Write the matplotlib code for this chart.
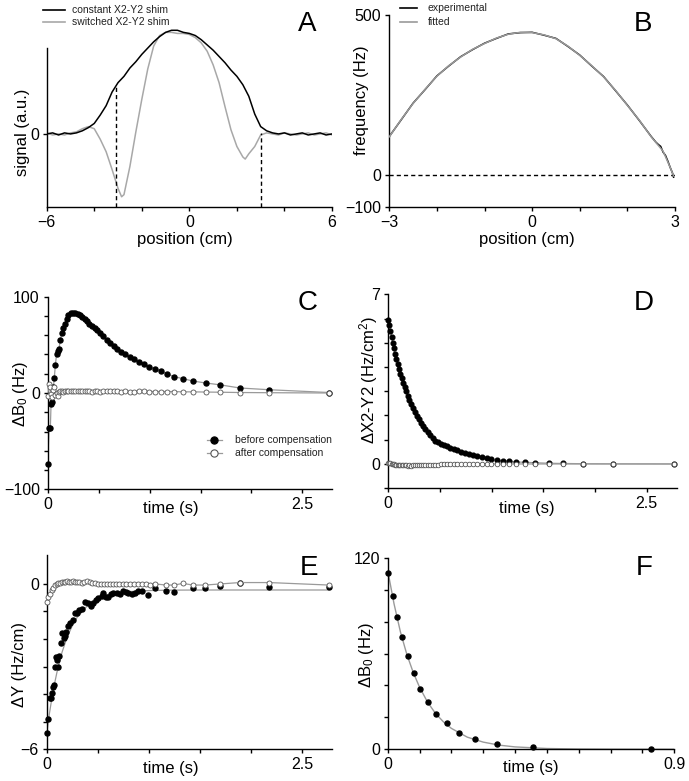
import numpy as np
import matplotlib
matplotlib.use('Agg')
import matplotlib.pyplot as plt
from matplotlib.lines import Line2D

plt.rcParams['font.family'] = ['Liberation Sans', 'DejaVu Sans']
plt.rcParams['mathtext.fontset'] = 'custom'
plt.rcParams['mathtext.rm'] = 'Liberation Sans'
plt.rcParams['mathtext.it'] = 'Liberation Sans:italic'

# ---------------- Panel A: signal profiles ----------------
a_x_const = [-6, -5.75, -5.5, -5.25, -5, -4.75, -4.5, -4.25, -4, -3.75, -3.5, -3.25, -3,
             -2.75, -2.5, -2.25, -2, -1.75, -1.5, -1.25, -1, -0.75, -0.5, -0.25, 0,
             0.25, 0.5, 0.75, 1, 1.25, 1.5, 1.75, 2, 2.25, 2.5, 2.75, 3, 3.25, 3.5,
             3.75, 4, 4.25, 4.5, 4.75, 5, 5.25, 5.5, 5.75, 6]
a_const = [0.00, 0.01, -0.01, 0.01, 0.00, 0.01, 0.03, 0.06, 0.10, 0.18, 0.27, 0.40, 0.49,
           0.55, 0.63, 0.69, 0.76, 0.82, 0.88, 0.93, 0.97, 0.99, 0.99, 0.97, 0.96,
           0.94, 0.90, 0.85, 0.80, 0.74, 0.68, 0.61, 0.55, 0.47, 0.36, 0.19, 0.07, 0.03, 0.01,
           0.00, 0.01, -0.01, 0.00, 0.01, -0.01, 0.00, 0.01, -0.01, 0.00]
a_x_switch = [-6, -5.75, -5.5, -5.25, -5, -4.75, -4.5, -4.25, -4, -3.75, -3.5, -3.25, -3,
              -2.85, -2.75, -2.5, -2.25, -2, -1.75, -1.5, -1.25, -1, -0.75, -0.5, -0.25,
              0, 0.25, 0.5, 0.75, 1, 1.25, 1.5, 1.75, 2, 2.25, 2.35, 2.5, 2.75, 3, 3.25,
              3.5, 3.75, 4, 4.25, 4.5, 4.75, 5, 5.25, 5.5, 5.75, 6]
a_switch = [0.01, -0.01, 0.00, -0.01, 0.01, 0.02, 0.05, 0.07, 0.05, -0.05, -0.17, -0.34, -0.52,
            -0.60, -0.58, -0.31, 0.02, 0.33, 0.62, 0.84, 0.94, 0.97, 0.97, 0.96, 0.96,
            0.95, 0.92, 0.87, 0.79, 0.66, 0.49, 0.26, 0.04, -0.12, -0.22, -0.24, -0.19, -0.12, -0.01, 0.01,
            0.00, -0.01, 0.01, 0.00, -0.01, 0.00, 0.01, -0.01, 0.00, 0.01, -0.01]
a_cut_x = [-3.08, 3.0]
a_cut_top = [0.47, 0.01]

# ---------------- Panel B: frequency vs position ----------------
b_fit_x = [-3, -2.75, -2.5, -2.25, -2, -1.75, -1.5, -1.25, -1, -0.75, -0.5, -0.25, 0,
           0.25, 0.5, 0.75, 1, 1.25, 1.5, 1.75, 2, 2.25, 2.5, 2.75, 2.9, 2.97]
b_fit = [120, 174, 224, 268, 309, 342, 369, 393, 411, 428, 440, 446, 445,
         438, 426, 403, 374, 342, 307, 265, 218, 172, 120, 75, 24, -2]
b_exp_x = [-3, -2.75, -2.5, -2.25, -2, -1.75, -1.5, -1.25, -1, -0.75, -0.5, -0.25, 0,
           0.25, 0.5, 0.75, 1, 1.25, 1.5, 1.75, 2, 2.25, 2.5,
           2.6, 2.65, 2.7, 2.75, 2.8, 2.85, 2.9, 2.95, 2.97]
b_exp = [121, 173, 225, 267, 310, 341, 370, 392, 412, 427, 441, 445, 446,
         437, 427, 402, 375, 341, 308, 264, 219, 171, 121,
         103, 96, 90, 72, 62, 44, 24, 6, -6]
b_zero_x = [-3, 3]

# ---------------- Panel C: dB0 vs time ----------------
c_t = [0.000, 0.013, 0.026, 0.033, 0.046, 0.056, 0.065, 0.075, 0.088, 0.098, 0.111, 0.124,
       0.137, 0.154, 0.170, 0.186, 0.203, 0.225, 0.248, 0.271, 0.294, 0.317, 0.340, 0.363,
       0.386, 0.410, 0.435, 0.460, 0.487, 0.516, 0.546, 0.578, 0.610, 0.647, 0.683, 0.722,
       0.761, 0.804, 0.850, 0.895, 0.944, 0.997, 1.052, 1.108, 1.167, 1.239, 1.324, 1.422,
       1.549, 1.690, 1.886, 2.173, 2.760]
c_before = [-74, -36, -36, -11, -9, 6, 16, 29, 41, 44, 46, 55, 62, 67, 72, 77, 81, 83, 83, 83,
            82, 81, 79, 77, 75, 72, 70, 68, 65, 62, 59, 55, 52, 49, 46, 43, 40, 37, 35, 32,
            30, 27, 25, 23, 20, 17, 15, 12.5, 10.4, 8.5, 5.2, 3.4, 0.5]
c_after = [-3, 9.5, 6.5, -1, -4, 3, 6, -2, 0.5, -3, 1, 2, 2.5, 1.5, 2, 2.5, 2, 2, 2.5, 2,
           2.5, 2, 2, 2.5, 2, 2, 1.5, 2, 2, 1.5, 2, 2, 2.5, 2, 2, 1.5, 2, 1.5, 1.5, 2,
           2, 1.5, 1.5, 1.5, 1.5, 1.5, 1.2, 1.2, 1.0, 0.8, 0.5, 0.3, 0.0]

# ---------------- Panel D: dX2-Y2 vs time ----------------
d_t = [0.000, 0.010, 0.021, 0.032, 0.043, 0.055, 0.067, 0.079, 0.091, 0.104, 0.117, 0.130,
       0.144, 0.158, 0.172, 0.187, 0.203, 0.220, 0.238, 0.256, 0.275, 0.294, 0.314, 0.335,
       0.357, 0.380, 0.404, 0.429, 0.455, 0.482, 0.510, 0.539, 0.569, 0.600, 0.633, 0.667,
       0.702, 0.739, 0.778, 0.818, 0.860, 0.904, 0.950, 0.998, 1.048, 1.105, 1.170, 1.240,
       1.320, 1.420, 1.550, 1.690, 1.886, 2.175, 2.760]
d_before = [5.95, 5.72, 5.47, 5.24, 5.01, 4.77, 4.55, 4.34, 4.13, 3.93, 3.73, 3.54,
            3.34, 3.16, 2.99, 2.82, 2.64, 2.47, 2.30, 2.14, 1.98, 1.84, 1.69, 1.56,
            1.43, 1.30, 1.18, 1.07, 0.96, 0.90, 0.84, 0.79, 0.73, 0.67, 0.61, 0.56,
            0.51, 0.46, 0.41, 0.36, 0.32, 0.27, 0.23, 0.19, 0.15, 0.13, 0.11, 0.08,
            0.07, 0.05, 0.03, 0.02, 0.01, 0.005, 0.0]
d_after = [0.06, 0.03, 0.02, 0.00, -0.01, -0.02, -0.03, -0.03, -0.04, -0.05, -0.05, -0.05,
           -0.06, -0.06, -0.06, -0.07, -0.06, -0.07, -0.06, -0.06, -0.06, -0.05, -0.05, -0.05,
           -0.04, -0.04, -0.04, -0.03, -0.03, -0.03, -0.02, -0.02, -0.02, -0.02, -0.01, -0.01,
           -0.01, -0.01, -0.01, 0, 0, 0, 0, 0, 0, 0, 0, 0,
           0, 0, 0, 0, 0, 0, 0]

# ---------------- Panel E: dY vs time ----------------
e_t_before = [0.000, 0.014, 0.028, 0.042, 0.050, 0.058, 0.072, 0.083, 0.093, 0.104, 0.114,
              0.124, 0.137, 0.147, 0.168, 0.180, 0.192, 0.204, 0.228, 0.255, 0.277, 0.294,
              0.320, 0.343, 0.375, 0.408, 0.431, 0.451, 0.483, 0.506, 0.539, 0.555, 0.581,
              0.604, 0.627, 0.653, 0.686, 0.719, 0.751, 0.777, 0.800, 0.833, 0.866, 0.898,
              0.931, 0.996, 1.060, 1.170, 1.248, 1.430, 1.550, 1.700, 1.890, 2.180, 2.760]
e_before = [-5.42, -4.90, -4.15, -4.15, -3.95, -3.73, -3.67, -3.00, -2.66, -2.76, -3.00,
            -2.61, -2.13, -1.79, -1.95, -1.88, -1.74, -1.52, -1.43, -1.31, -1.06, -1.04,
            -0.94, -0.92, -0.66, -0.70, -0.80, -0.70, -0.58, -0.52, -0.44, -0.32, -0.48,
            -0.49, -0.36, -0.34, -0.32, -0.36, -0.25, -0.29, -0.34, -0.36, -0.32, -0.25,
            -0.24, -0.40, -0.16, -0.24, -0.28, -0.16, -0.16, -0.07, 0.02, -0.12, -0.12]
e_fit_t = [0, 0.025, 0.05, 0.075, 0.1, 0.15, 0.2, 0.25, 0.3, 0.4, 0.5, 0.6, 0.7, 0.8,
           1.0, 1.2, 1.5, 2.0, 2.76]
e_fit = [-5.42, -4.74, -4.16, -3.65, -3.21, -2.48, -1.93, -1.52, -1.20, -0.78, -0.54,
         -0.41, -0.33, -0.28, -0.24, -0.225, -0.22, -0.22, -0.22]
e_t_after = [0.000, 0.016, 0.032, 0.049, 0.065, 0.081, 0.098, 0.114, 0.130, 0.148, 0.165,
             0.180, 0.200, 0.220, 0.240, 0.260, 0.280, 0.300, 0.320, 0.345, 0.370, 0.395,
             0.420, 0.445, 0.470, 0.500, 0.530, 0.560, 0.590, 0.620, 0.650, 0.680, 0.710,
             0.745, 0.780, 0.815, 0.850, 0.890, 0.930, 0.970, 1.010, 1.060, 1.170, 1.248,
             1.333, 1.430, 1.550, 1.700, 1.890, 2.180, 2.760]
e_after = [-0.64, -0.46, -0.36, -0.21, -0.14, -0.04, 0.00, 0.05, 0.03, 0.06, 0.08,
           0.06, 0.09, 0.07, 0.08, 0.10, 0.07, 0.06, 0.07, 0.05, 0.06, 0.12,
           0.08, 0.03, 0.02, 0.01, 0.01, 0.00, 0.01, 0.00, 0.00, 0.01, 0.00,
           0.00, -0.01, -0.02, -0.02, 0.00, -0.01, -0.02, -0.03, 0.00, -0.04, -0.04,
           0.02, -0.04, -0.04, 0.00, 0.05, 0.05, -0.04]

# ---------------- Panel F: dB0 decay ----------------
f_t = [0.002, 0.0157, 0.030, 0.045, 0.063, 0.082, 0.101, 0.126, 0.153, 0.185, 0.224,
       0.274, 0.342, 0.455, 0.827]
f_v = [110.6, 96.2, 83.0, 70.5, 58.2, 48.0, 37.9, 29.4, 22.3, 16.5, 10.4, 6.4, 3.1, 1.2, 0.2]
f_fit_t = [0, 0.02, 0.04, 0.06, 0.08, 0.1, 0.125, 0.15, 0.175, 0.2, 0.25, 0.3, 0.35,
           0.4, 0.5, 0.6, 0.7, 0.8, 0.9]
f_fit = [112, 91, 73.5, 59.5, 48.2, 38.9, 29.6, 22.5, 17.2, 13.1, 7.6, 4.5, 2.6, 1.5,
         0.5, 0.18, 0.06, 0.02, 0.0]

# ---------------- drawing ----------------
W, H = 689, 781
fig = plt.figure(figsize=(W / 100, H / 100), dpi=100)
GRAY = '#9a9a9a'
LGRAY = '#a8a8a8'
OPEN_EDGE = '#555555'
TICK_FS = 11.5


def add_ax(left, right, top, bottom):
    return fig.add_axes([left / W, 1 - bottom / H, (right - left) / W, (bottom - top) / H])


def style(ax):
    for s in ['top', 'right']:
        ax.spines[s].set_visible(False)
    for s in ['left', 'bottom']:
        ax.spines[s].set_linewidth(1.0)
    ax.tick_params(which='both', direction='out', length=3.2, width=1.0,
                   labelsize=TICK_FS, pad=2.5)
    ax.patch.set_alpha(0)


def labels(ax, xl, yl, xpos, ypos):
    ax.set_xlabel(xl, fontsize=12)
    ax.set_ylabel(yl, fontsize=12)
    ax.xaxis.set_label_coords(*xpos)
    ax.yaxis.set_label_coords(*ypos)
    ax.xaxis.label.set_va('center')
    ax.yaxis.label.set_va('center')


def letter(x, y, s):
    fig.text(x / W, 1 - y / H, s, fontsize=20, ha='center', va='center')


def leg_entry(x0, x1, xt, y, text, color, lw=1.2, marker=None, mfc=None, mec=None):
    yy = 1 - y / H
    fig.add_artist(Line2D([x0 / W, x1 / W], [yy, yy], transform=fig.transFigure,
                          color=color, lw=lw))
    if marker:
        fig.add_artist(Line2D([(x0 + x1) / 2 / W], [yy], transform=fig.transFigure,
                              marker=marker, ms=5.2, mfc=mfc, mec=mec, mew=0.8, ls='none'))
    fig.text(xt / W, yy, text, fontsize=7.5, ha='left', va='center', color='#222222')


# Panel A
axA = add_ax(46.7, 332, 24, 206.7)
style(axA)
a_ylim = (-0.695, 1.05)
axA.plot(a_x_const, a_const, color='black', lw=1.1, zorder=3)
axA.plot(a_x_switch, a_switch, color=LGRAY, lw=1.1, zorder=2)
for xc, yt in zip(a_cut_x, a_cut_top):
    axA.plot([xc, xc], [a_ylim[0], yt], color='black', lw=1.0, ls=(0, (3.0, 2.2)), zorder=4)
axA.set_xlim(-6, 6)
axA.set_ylim(*a_ylim)
axA.spines['left'].set_bounds(a_ylim[0], 0.824)
axA.set_xticks([-6, 0, 6], labels=['\u22126', '0', '6'])
axA.set_xticks([-4, -2, 2, 4], minor=True)
axA.set_yticks([0], labels=['0'])
labels(axA, 'position (cm)', 'signal (a.u.)', (0.485, -0.182), (-0.085, 0.409))
leg_entry(42.7, 65, 72, 10, 'constant X2-Y2 shim', 'black')
leg_entry(42.7, 65, 72, 22, 'switched X2-Y2 shim', LGRAY)
letter(306.7, 24, 'A')

# Panel B
axB = add_ax(389.3, 675, 15, 207.3)
style(axB)
axB.plot(b_exp_x, b_exp, color='black', lw=1.1, zorder=2)
axB.plot(b_fit_x, b_fit, color=GRAY, lw=1.1, zorder=3)
axB.plot(b_zero_x, [0, 0], color='black', lw=1.0, ls=(0, (3.0, 2.2)), zorder=1)
axB.set_xlim(-3, 3)
axB.set_ylim(-100, 500)
axB.set_xticks([-3, 0, 3], labels=['\u22123', '0', '3'])
axB.set_xticks([-2, -1, 1, 2], minor=True)
axB.set_yticks([-100, 0, 500], labels=['\u2212100', '0', '500'])
labels(axB, 'position (cm)', 'frequency (Hz)', (0.483, -0.17), (-0.097, 0.558))
leg_entry(400, 416.7, 427.7, 8, 'experimental', 'black')
leg_entry(400, 416.7, 427.7, 22, 'fitted', GRAY)
letter(643, 24, 'B')

# Panel C
axC = add_ax(47.7, 332, 296.7, 489.3)
style(axC)
axC.plot(c_t, c_before, color=GRAY, lw=0.9, zorder=2)
axC.plot(c_t, c_before, 'o', ms=3.6, color='black', zorder=3, clip_on=False)
axC.plot(c_t, c_after, color=GRAY, lw=0.9, zorder=4)
axC.plot(c_t, c_after, 'o', ms=3.6, mfc='white', mec=OPEN_EDGE, mew=0.6, zorder=5,
         clip_on=False)
axC.set_xlim(0, 2.79)
axC.set_ylim(-100, 100)
axC.set_xticks([0, 2.5], labels=['0', '2.5'])
axC.set_xticks([0.5, 1.0, 1.5, 2.0], minor=True)
axC.set_yticks([-100, 0, 100], labels=['\u2212100', '0', '100'])
axC.set_yticks([-80, -60, -40, -20, 20, 40, 60, 80], minor=True)
labels(axC, 'time (s)', '\u0394B$_0$ (Hz)', (0.433, -0.099), (-0.094, 0.498))
leg_entry(206.7, 221.7, 235, 440, 'before compensation', GRAY, lw=0.9,
          marker='o', mfc='black', mec='black')
leg_entry(206.7, 221.7, 235, 452.7, 'after compensation', GRAY, lw=0.9,
          marker='o', mfc='white', mec=OPEN_EDGE)
letter(308, 303, 'C')

# Panel D
axD = add_ax(388.3, 676.7, 294.3, 488.2)
style(axD)
axD.plot(d_t, d_before, color=GRAY, lw=0.9, zorder=2)
axD.plot(d_t, d_before, 'o', ms=3.4, color='black', zorder=3, clip_on=False)
axD.plot(d_t, d_after, color=GRAY, lw=0.9, zorder=4)
axD.plot(d_t, d_after, 'o', ms=3.3, mfc='white', mec=OPEN_EDGE, mew=0.6, zorder=5,
         clip_on=False)
axD.set_xlim(0, 2.79)
axD.set_ylim(-1, 7)
axD.set_xticks([0, 2.5], labels=['0', '2.5'])
axD.set_xticks([0.5, 1.0, 1.5, 2.0], minor=True)
axD.set_yticks([0, 7], labels=['0', '7'])
axD.set_yticks([-1, 1, 2, 3, 4, 5, 6], minor=True)
labels(axD, 'time (s)', '\u0394X2-Y2 (Hz/cm$^2$)', (0.482, -0.104), (-0.069, 0.558))
letter(643.3, 303.3, 'D')

# Panel E
axE = add_ax(46.7, 331.7, 555, 749.3)
style(axE)
axE.plot(e_fit_t, e_fit, color=GRAY, lw=0.9, zorder=2)
axE.plot(e_t_before, e_before, 'o', ms=3.6, color='black', zorder=3, clip_on=False)
axE.plot(e_t_after, e_after, color=GRAY, lw=0.9, zorder=4)
axE.plot(e_t_after, e_after, 'o', ms=3.6, mfc='white', mec=OPEN_EDGE, mew=0.6, zorder=5,
         clip_on=False)
axE.set_xlim(0, 2.79)
axE.set_ylim(-6, 1.05)
axE.set_xticks([0, 2.5], labels=['0', '2.5'])
axE.set_xticks([0.5, 1.0, 1.5, 2.0], minor=True)
axE.set_yticks([-6, 0], labels=['\u22126', '0'])
axE.set_yticks([-5, -4, -3, -2, -1], minor=True)
labels(axE, 'time (s)', '\u0394Y (Hz/cm)', (0.435, -0.098), (-0.094, 0.439))
letter(309, 568.3, 'E')

# Panel F
axF = add_ax(387.7, 674.3, 557.7, 749.3)
style(axF)
axF.plot(f_fit_t, f_fit, color=GRAY, lw=1.0, zorder=2)
axF.plot(f_t, f_v, 'o', ms=3.6, color='black', zorder=3, clip_on=False)
axF.set_xlim(0, 0.9)
axF.set_ylim(0, 120)
axF.set_xticks([0, 0.9], labels=['0', '0.9'])
axF.set_xticks([0.1, 0.2, 0.3, 0.4, 0.5, 0.6, 0.7, 0.8], minor=True)
axF.set_yticks([0, 120], labels=['0', '120'])
axF.set_yticks([20, 40, 60, 80, 100], minor=True)
labels(axF, 'time (s)', '\u0394B$_0$ (Hz)', (0.499, -0.094), (-0.073, 0.492))
letter(644.3, 567.7, 'F')

fig.savefig('out.png', dpi=100)
